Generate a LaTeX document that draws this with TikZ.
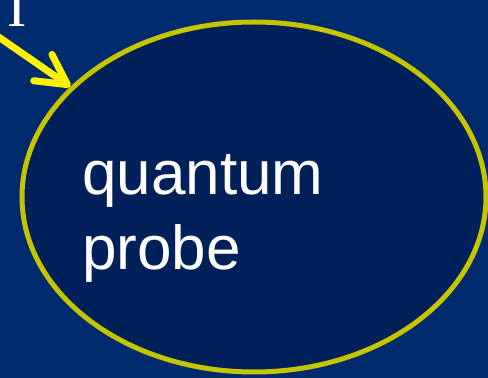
\documentclass[tikz,border=0pt]{standalone}
\usepackage{fontspec}
\setmainfont{Liberation Serif}
\newfontfamily\probefont{Liberation Sans}
\usepackage{xcolor}
\usetikzlibrary{arrows.meta, shapes.geometric, positioning}
\definecolor{slidebg}{RGB}{0,42,110}
\definecolor{probefill}{RGB}{0,32,90}
\definecolor{rimcolor}{RGB}{196,196,0}

\begin{document}
\begin{tikzpicture}[x=1pt, y=1pt,
    probe/.style={draw=rimcolor, fill=probefill, ellipse, line width=5pt,
                  minimum width=464pt, minimum height=350pt, inner sep=0pt},
    probe text/.style={text=white, font=\probefont\fontsize{62}{75}\selectfont,
                       align=left, inner sep=0pt},
    pointer/.style={draw=yellow, line width=7pt,
                    -{Straight Barb[length=30pt, width=32pt, round]}}
  ]
  \useasboundingbox (0,0) rectangle (488,378);
  \fill[slidebg] (0,0) rectangle (488,378);
  \clip (0,0) rectangle (488,378);
  \node[probe] (qp) at (254,181) {};
  \node[probe text, anchor=base west] (qtext) at (82,108) {quantum\\probe};
  \node[text=white, font=\fontsize{58}{60}\selectfont, anchor=base,
        inner sep=0pt] (ilabel) at (17,351) {I};
  \coordinate (src) at (-10,347);
  \draw[pointer] (src) -- (qp.149);
\end{tikzpicture}
\end{document}
